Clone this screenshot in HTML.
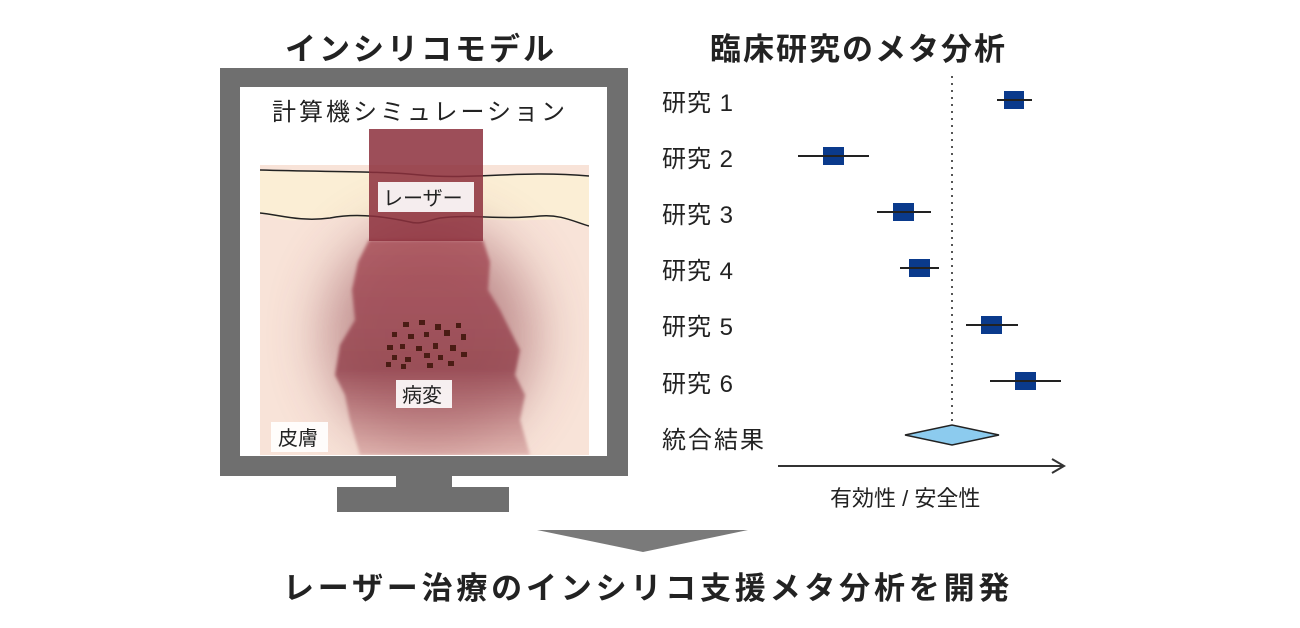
<!DOCTYPE html>
<html><head><meta charset="utf-8"><style>
body{margin:0;background:#fff;}
.t{position:absolute;font-family:"Liberation Sans","Noto Sans CJK JP",sans-serif;color:#222;white-space:nowrap;}
</style></head><body>
<div style="position:relative;width:1300px;height:628px;overflow:hidden;">
<svg width="1300" height="628" style="position:absolute;left:0;top:0">
<defs>
<filter id="b1" x="-50%" y="-50%" width="200%" height="200%"><feGaussianBlur stdDeviation="28"/></filter>
<filter id="b2"><feGaussianBlur stdDeviation="1.5"/></filter>
<linearGradient id="lg" x1="0" y1="0" x2="0" y2="1"><stop offset="0" stop-color="#a8505a"/><stop offset="0.6" stop-color="#94444f"/><stop offset="1" stop-color="#c98a8a" stop-opacity="0.6"/></linearGradient>
<clipPath id="skin"><rect x="260" y="165" width="329" height="290"/></clipPath>
</defs>
<rect x="220" y="68" width="408" height="408" fill="#6f6f6f"/>
<rect x="240" y="87" width="367" height="369" fill="#fff"/>
<rect x="396" y="476" width="56" height="12" fill="#6f6f6f"/>
<rect x="337" y="487" width="172" height="25" fill="#6f6f6f"/>
<g clip-path="url(#skin)">
<rect x="260" y="160" width="329" height="300" fill="#f8e3d8"/>
<path d="M260 170 C330 172 380 171 420 175 C470 180 520 170 589 176 L589 225 C560 215 540 222 500 220 C470 218 440 225 420 223 C400 220 340 214 300 220 C280 222 270 215 260 213 Z" fill="#fbeed5"/>
<ellipse cx="430" cy="335" rx="105" ry="110" fill="#8a3d48" opacity="0.5" filter="url(#b1)"/>
<path d="M369 240 L483 240 L490 262 L488 290 L500 310 L510 330 L520 350 L515 375 L525 395 L520 420 L530 455 L360 455 L350 420 L345 395 L335 375 L340 345 L355 320 L352 290 L358 262 Z" fill="url(#lg)" opacity="0.85" filter="url(#b2)"/>
<path d="M260 170 C330 172 380 171 420 175 C470 180 520 170 589 176" fill="none" stroke="#222" stroke-width="1.5"/>
<path d="M260 213 C280 215 300 222 330 218 C360 212 390 218 410 222 C420 225 430 220 440 218 C470 214 500 220 540 216 C560 214 575 222 589 226" fill="none" stroke="#222" stroke-width="1.5"/>
</g>
<rect x="369" y="129" width="114" height="112" fill="#8c2f3c" opacity="0.85"/>
<g fill="#4a1c14">
<rect x="403" y="322" width="6" height="5"/><rect x="419" y="320" width="6" height="5"/><rect x="435" y="324" width="6" height="6"/><rect x="456" y="323" width="5" height="5"/>
<rect x="392" y="332" width="5" height="5"/><rect x="408" y="334" width="6" height="5"/><rect x="424" y="332" width="5" height="5"/><rect x="444" y="330" width="6" height="6"/><rect x="461" y="334" width="5" height="6"/>
<rect x="387" y="345" width="6" height="5"/><rect x="400" y="344" width="5" height="5"/><rect x="416" y="346" width="6" height="5"/><rect x="433" y="343" width="5" height="6"/><rect x="450" y="345" width="6" height="6"/>
<rect x="392" y="355" width="5" height="5"/><rect x="405" y="357" width="6" height="5"/><rect x="424" y="353" width="6" height="5"/><rect x="438" y="355" width="5" height="5"/><rect x="461" y="352" width="6" height="5"/>
<rect x="386" y="362" width="5" height="5"/><rect x="401" y="364" width="5" height="5"/><rect x="427" y="363" width="6" height="5"/><rect x="448" y="361" width="6" height="5"/>
</g>
<rect x="378" y="182" width="96" height="30" fill="#fff" opacity="0.9"/>
<rect x="396" y="380" width="56" height="28" fill="#fff" opacity="0.9"/>
<rect x="271" y="422" width="57" height="30" fill="#fff" opacity="0.9"/>
<line x1="952" y1="76" x2="952" y2="425" stroke="#555" stroke-width="2" stroke-dasharray="2,5"/>
<g fill="#0a3a8c">
<rect x="1004" y="91" width="20" height="18"/>
<rect x="823" y="147" width="21" height="18"/>
<rect x="893" y="203" width="21" height="18"/>
<rect x="909" y="259" width="21" height="18"/>
<rect x="981" y="316" width="21" height="18"/>
<rect x="1015" y="372" width="21" height="18"/>
</g>
<g stroke="#222" stroke-width="2">
<line x1="997" y1="100" x2="1032" y2="100"/>
<line x1="798" y1="156" x2="869" y2="156"/>
<line x1="877" y1="212" x2="931" y2="212"/>
<line x1="900" y1="268" x2="939" y2="268"/>
<line x1="966" y1="325" x2="1018" y2="325"/>
<line x1="990" y1="381" x2="1061" y2="381"/>
</g>
<polygon points="905,435 952,425 999,435 952,445" fill="#8ccbee" stroke="#222" stroke-width="1.5"/>
<line x1="778" y1="466" x2="1063" y2="466" stroke="#333" stroke-width="2"/>
<polyline points="1052,459 1064,466 1052,473" fill="none" stroke="#333" stroke-width="2"/>
<polygon points="537,530 748,530 643,552" fill="#7a7a7a"/>
</svg>
<div class="t" style="left:285px;top:24px;font-size:31px;font-weight:bold;letter-spacing:3px;">インシリコモデル</div>
<div class="t" style="left:710px;top:24px;font-size:31px;font-weight:bold;letter-spacing:2px;">臨床研究のメタ分析</div>
<div class="t" style="left:272px;top:92px;font-size:24px;letter-spacing:3px;">計算機シミュレーション</div>
<div class="t" style="left:383px;top:182px;font-size:20px;">レーザー</div>
<div class="t" style="left:402px;top:379px;font-size:20px;">病変</div>
<div class="t" style="left:278px;top:422px;font-size:20px;">皮膚</div>
<div class="t" style="left:662px;top:83px;font-size:24px;letter-spacing:1px;">研究 1</div>
<div class="t" style="left:662px;top:139px;font-size:24px;letter-spacing:1px;">研究 2</div>
<div class="t" style="left:662px;top:195px;font-size:24px;letter-spacing:1px;">研究 3</div>
<div class="t" style="left:662px;top:251px;font-size:24px;letter-spacing:1px;">研究 4</div>
<div class="t" style="left:662px;top:307px;font-size:24px;letter-spacing:1px;">研究 5</div>
<div class="t" style="left:662px;top:364px;font-size:24px;letter-spacing:1px;">研究 6</div>
<div class="t" style="left:662px;top:420px;font-size:24px;letter-spacing:2px;">統合結果</div>
<div class="t" style="left:830px;top:481px;font-size:22px;">有効性 / 安全性</div>
<div class="t" style="left:283px;top:563px;font-size:31px;font-weight:bold;letter-spacing:3.8px;">レーザー治療のインシリコ支援メタ分析を開発</div>
</div>
</body></html>
